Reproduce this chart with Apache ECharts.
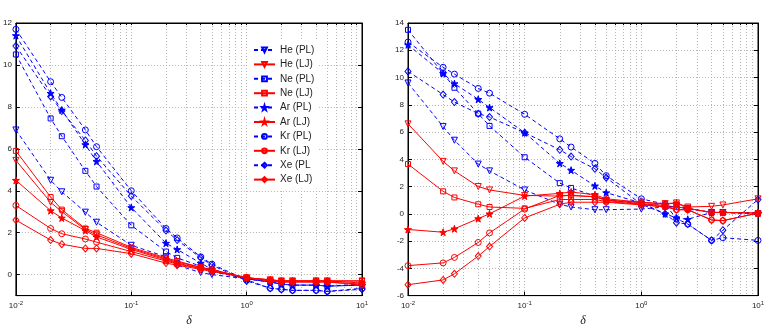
<!DOCTYPE html>
<html>
<head>
<meta charset="utf-8">
<script src="https://cdn.jsdelivr.net/npm/echarts@6/dist/echarts.min.js"></script>
<style>
    html, body { margin: 0; padding: 0; background: #fff; }
    #chart { width: 771px; height: 332px; }
</style>
</head>
<body>
<div id="chart"></div>
<script>
    // delta values (x) shared by every curve
    const deltaValues = [0.01, 0.02, 0.025, 0.04, 0.05, 0.1, 0.2, 0.25, 0.4, 0.5, 1, 1.6, 2, 2.5, 4, 5, 10];
    const decadeTicks = [0.01, 0.1, 1, 10];
    const minorTicks = [0.02, 0.03, 0.04, 0.05, 0.06, 0.07, 0.08, 0.09,
        0.2, 0.3, 0.4, 0.5, 0.6, 0.7, 0.8, 0.9,
        2, 3, 4, 5, 6, 7, 8, 9];
    const leftYTicks = [0, 2, 4, 6, 8, 10, 12];
    const rightYTicks = [-6, -4, -2, 0, 2, 4, 6, 8, 10, 12, 14];

    const seriesNames = ['He (PL)', 'He (LJ)', 'Ne (PL)', 'Ne (LJ)', 'Ar (PL)', 'Ar (LJ)', 'Kr (PL)', 'Kr (LJ)', 'Xe (PL', 'Xe (LJ)'];

    // left panel
    const leftHePL = [6.9, 4.5, 3.95, 2.98, 2.5, 1.4, 0.85, 0.45, 0.1, 0.0, -0.2, -0.35, -0.45, -0.5, -0.5, -0.55, -0.5];
    const leftHeLJ = [5.45, 3.45, 3.0, 2.15, 1.9, 1.25, 0.75, 0.6, 0.35, 0.2, -0.15, -0.25, -0.3, -0.3, -0.3, -0.3, -0.3];
    const leftNePL = [10.5, 7.45, 6.6, 4.95, 4.2, 2.35, 1.1, 0.8, 0.4, 0.15, -0.2, -0.35, -0.45, -0.5, -0.5, -0.55, -0.45];
    const leftNeLJ = [5.9, 3.7, 3.1, 2.2, 2.0, 1.3, 0.8, 0.65, 0.35, 0.25, -0.15, -0.25, -0.3, -0.3, -0.3, -0.3, -0.3];
    const leftArPL = [11.4, 8.65, 7.85, 6.2, 5.4, 3.2, 1.5, 1.2, 0.55, 0.25, -0.2, -0.35, -0.45, -0.5, -0.5, -0.55, -0.5];
    const leftArLJ = [4.5, 3.05, 2.7, 2.1, 1.8, 1.2, 0.7, 0.55, 0.3, 0.2, -0.15, -0.25, -0.3, -0.3, -0.3, -0.3, -0.4];
    const leftKrPL = [11.7, 9.2, 8.45, 6.9, 6.1, 4.0, 2.2, 1.75, 0.85, 0.5, -0.25, -0.65, -0.7, -0.75, -0.75, -0.8, -0.65];
    const leftKrLJ = [3.3, 2.2, 1.95, 1.7, 1.55, 1.1, 0.65, 0.5, 0.3, 0.2, -0.15, -0.3, -0.35, -0.35, -0.35, -0.35, -0.5];
    const leftXePL = [10.9, 8.5, 7.8, 6.4, 5.65, 3.75, 2.1, 1.65, 0.8, 0.45, -0.3, -0.65, -0.7, -0.75, -0.75, -0.8, -0.7];
    const leftXeLJ = [2.6, 1.65, 1.45, 1.25, 1.25, 1.0, 0.55, 0.45, 0.25, 0.15, -0.15, -0.3, -0.35, -0.35, -0.35, -0.35, -0.45];

    // right panel
    const rightHePL = [9.6, 6.4, 5.4, 3.65, 3.15, 1.75, 0.7, 0.5, 0.3, 0.3, 0.35, 0.5, 0.55, 0.4, 0.1, 0.1, 0.0];
    const rightHeLJ = [6.6, 3.85, 3.15, 2.0, 1.75, 1.35, 1.3, 1.35, 1.25, 1.0, 0.85, 0.75, 0.8, 0.5, 0.55, 0.65, 1.1];
    const rightNePL = [13.5, 10.3, 9.25, 7.35, 6.45, 4.15, 2.25, 1.9, 1.3, 1.0, 0.75, 0.6, 0.5, 0.35, 0.1, 0.1, 0.05];
    const rightNeLJ = [3.65, 1.65, 1.2, 0.7, 0.5, 0.4, 1.05, 1.05, 1.05, 0.9, 0.7, 0.5, 0.5, 0.4, 0.1, 0.1, 0.05];
    const rightArPL = [12.4, 10.3, 9.55, 8.4, 7.8, 5.95, 3.7, 3.2, 2.05, 1.55, 0.8, 0.0, -0.3, -0.4, 0.1, 0.1, 0.05];
    const rightArLJ = [-1.15, -1.35, -1.1, -0.35, 0.0, 1.3, 1.5, 1.6, 1.4, 1.1, 0.85, 0.7, 0.8, 0.4, 0.1, 0.1, 0.05];
    const rightKrPL = [12.6, 10.75, 10.25, 9.2, 8.85, 7.3, 5.5, 4.9, 3.7, 2.8, 1.1, 0.7, -0.35, -0.75, -1.95, -1.75, -1.95];
    const rightKrLJ = [-3.8, -3.6, -3.2, -2.1, -1.4, 0.35, 1.35, 1.35, 1.25, 1.0, 0.75, 0.6, 0.3, 0.3, -0.45, -0.5, 0.05];
    const rightXePL = [10.45, 8.75, 8.2, 7.35, 7.1, 5.95, 4.7, 4.2, 3.3, 2.65, 0.7, 0.0, -0.65, -0.75, -1.95, -1.2, 1.05];
    const rightXeLJ = [-5.2, -4.85, -4.4, -3.1, -2.4, -0.3, 0.7, 0.85, 0.85, 0.85, 0.65, 0.5, 0.3, 0.3, -0.45, -0.5, 0.05];

    const leftValues = [leftHePL, leftHeLJ, leftNePL, leftNeLJ, leftArPL, leftArLJ, leftKrPL, leftKrLJ, leftXePL, leftXeLJ];
    const rightValues = [rightHePL, rightHeLJ, rightNePL, rightNeLJ, rightArPL, rightArLJ, rightKrPL, rightKrLJ, rightXePL, rightXeLJ];

    const BLUE = '#0000ff';
    const RED = '#ff0000';
    const STAR = 'path://M50,0 L61,35 L98,35 L68,57 L79,91 L50,70 L21,91 L32,57 L2,35 L39,35 Z';
    // marker per gas: He, Ne, Ar, Kr, Xe
    const markers = [
        {symbol: 'triangle', rotate: 180, size: 6, filled: false},
        {symbol: 'rect', rotate: 0, size: 5, filled: false},
        {symbol: STAR, rotate: 0, size: 7, filled: true},
        {symbol: 'circle', rotate: 0, size: 6, filled: false},
        {symbol: 'diamond', rotate: 0, size: [6, 7], filled: false}
    ];
    const FONT = 'Liberation Sans';

    function makeSeries(idx, values, panel) {
        const isPL = idx % 2 === 0;
        const color = isPL ? BLUE : RED;
        const m = markers[Math.floor(idx / 2)];
        return {
            name: seriesNames[idx],
            type: 'line',
            xAxisIndex: panel * 2,
            yAxisIndex: panel * 2,
            data: deltaValues.map((d, i) => [d, values[i]]),
            symbol: m.symbol,
            symbolSize: m.size,
            symbolRotate: m.rotate,
            showAllSymbol: true,
            lineStyle: {color: color, width: 1, type: isPL ? [4, 3] : 'solid'},
            itemStyle: {color: m.filled ? color : 'none', borderColor: color, borderWidth: 1},
            z: isPL ? 2 : 3,
            emphasis: {disabled: true}
        };
    }

    function supLabel(v) {
        const e = Math.round(Math.log10(v));
        return '{b|10}{s|' + e + '}';
    }

    function xAxes(gridIndex) {
        return [
            {
                type: 'log', logBase: 10, gridIndex: gridIndex, min: 0.01, max: 10, position: 'bottom',
                name: 'δ', nameLocation: 'middle', nameGap: 13,
                nameTextStyle: {fontFamily: 'Liberation Serif', fontStyle: 'italic', fontSize: 12, color: '#222'},
                axisLine: {onZero: false, lineStyle: {color: '#000', width: 1}},
                axisTick: {inside: true, length: 4, customValues: decadeTicks, lineStyle: {color: '#000'}},
                axisLabel: {
                    customValues: decadeTicks, formatter: supLabel, margin: 5,
                    rich: {
                        b: {fontSize: 8, fontFamily: FONT, color: '#222'},
                        s: {fontSize: 6, fontFamily: FONT, color: '#222', padding: [0, 0, 5, 0]}
                    }
                },
                splitLine: {show: false}
            },
            {
                type: 'log', logBase: 10, gridIndex: gridIndex, min: 0.01, max: 10, position: 'top',
                axisLine: {onZero: false, lineStyle: {color: '#000', width: 1}},
                axisTick: {inside: true, length: 2, customValues: minorTicks.concat(decadeTicks), lineStyle: {color: '#000'}},
                axisLabel: {show: false},
                splitLine: {show: true, lineStyle: {color: '#b5b5b5', width: 1, type: [1, 2]}}
            }
        ];
    }

    function yAxes(gridIndex, min, max, ticks) {
        return [
            {
                type: 'value', gridIndex: gridIndex, min: min, max: max, position: 'left',
                axisLine: {show: true, onZero: false, lineStyle: {color: '#000', width: 1}},
                axisTick: {show: true, inside: true, length: 4, customValues: ticks, lineStyle: {color: '#000'}},
                axisLabel: {customValues: ticks, fontSize: 8, fontFamily: FONT, color: '#222', margin: 4},
                splitLine: {show: true, lineStyle: {color: '#b5b5b5', width: 1, type: [1, 2]}}
            },
            {
                type: 'value', gridIndex: gridIndex, min: min, max: max, position: 'right',
                axisLine: {show: true, onZero: false, lineStyle: {color: '#000', width: 1}},
                axisTick: {show: true, inside: true, length: 4, customValues: ticks, lineStyle: {color: '#000'}},
                axisLabel: {show: false},
                splitLine: {show: false}
            }
        ];
    }

    const series = [];
    leftValues.forEach((v, i) => series.push(makeSeries(i, v, 0)));
    rightValues.forEach((v, i) => series.push(makeSeries(i, v, 1)));

    const chart = echarts.init(document.getElementById('chart'), null, {renderer: 'canvas'});
    const option = {
        animation: false,
        backgroundColor: '#fff',
        grid: [
            {left: 12, top: 23, width: 350, height: 286, show: true, borderColor: '#000', borderWidth: 1},
            {left: 408, top: 23, width: 350, height: 284, show: true, borderColor: '#000', borderWidth: 1}
        ],
        xAxis: xAxes(0).concat(xAxes(1)),
        yAxis: yAxes(0, -1, 12, leftYTicks).concat(yAxes(1, -6, 14, rightYTicks)),
        legend: {
            data: seriesNames,
            orient: 'vertical',
            left: 247,
            top: 41,
            padding: [4, 4, 4, 6],
            itemWidth: 21,
            itemHeight: 6,
            itemGap: 4.4,
            backgroundColor: '#fff',
            selectedMode: false,
            textStyle: {fontSize: 10, fontFamily: FONT, color: '#222', lineHeight: 10}
        },
        series: series
    };
    chart.setOption(option);
</script>
</body>
</html>
